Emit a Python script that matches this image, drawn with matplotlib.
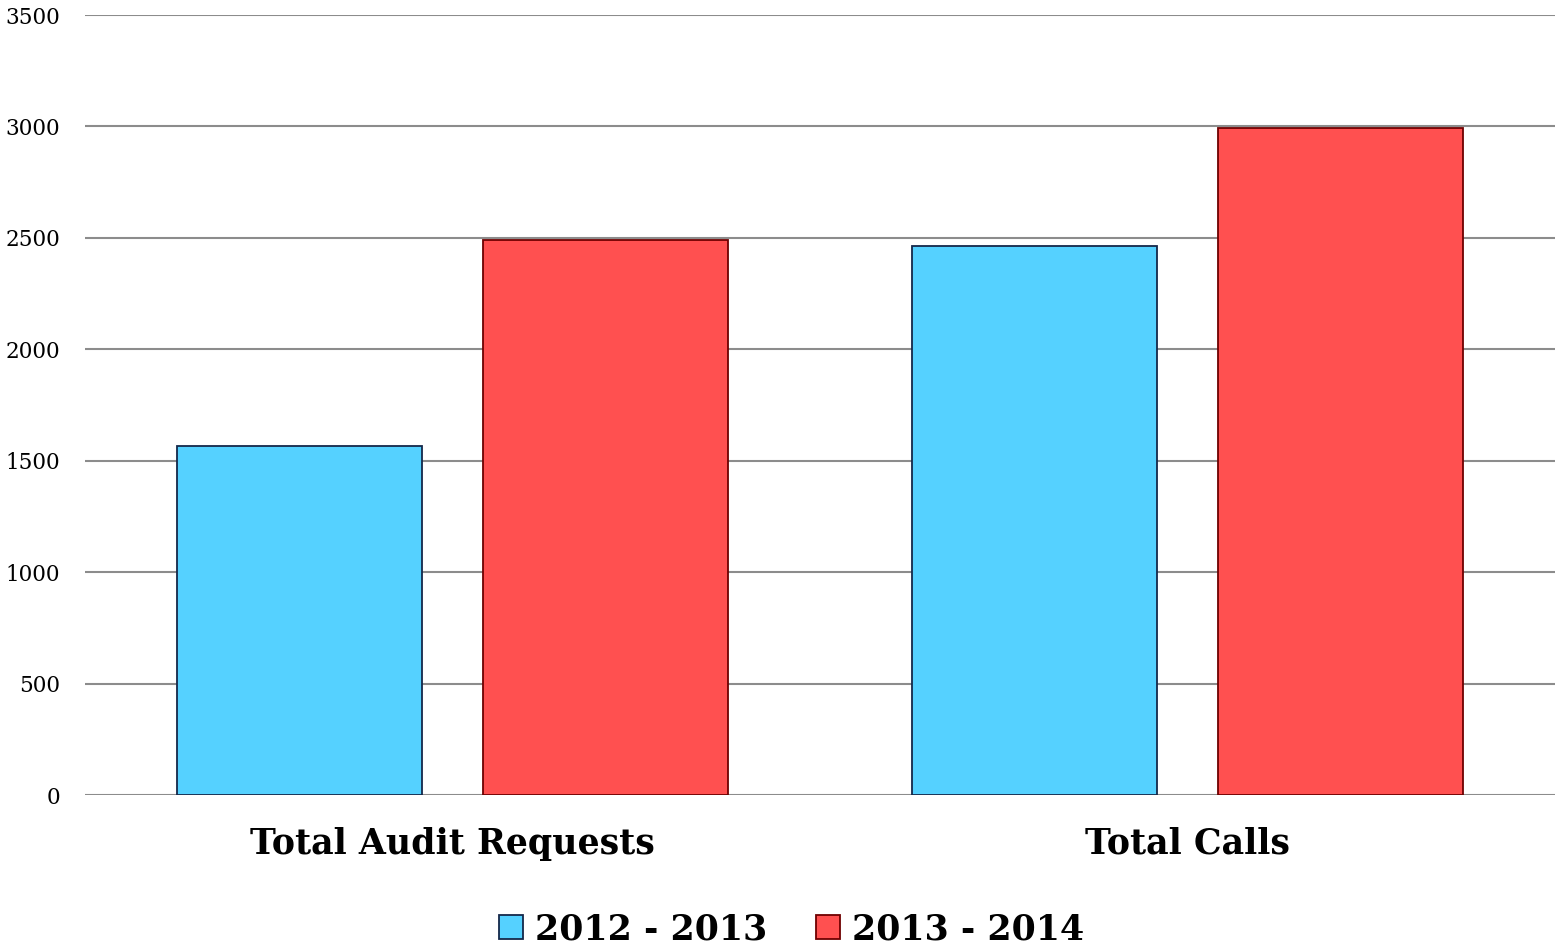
import numpy as np
import matplotlib
matplotlib.use("Agg")
import matplotlib.pyplot as plt

categories = ["Total Audit Requests", "Total Calls"]
series_names = ["2012 - 2013", "2013 - 2014"]
values_2012_13 = [1565, 2465]
values_2013_14 = [2492, 2995]
yticks = [0, 500, 1000, 1500, 2000, 2500, 3000, 3500]

fill_colors = ["#55d1ff", "#ff5050"]
edge_colors = ["#14284a", "#6e0000"]

plt.rcParams["font.family"] = ["DejaVu Serif"]

fig = plt.figure(figsize=(15.55, 9.5), dpi=100)
ax = fig.add_axes([85 / 1555, 155 / 950, 1470 / 1555, 780 / 950])

x = np.arange(len(categories))
width = 0.333
offset = 0.208
for i, vals in enumerate([values_2012_13, values_2013_14]):
    ax.bar(x + (i * 2 - 1) * offset, vals, width, color=fill_colors[i],
           edgecolor=edge_colors[i], linewidth=1.3, label=series_names[i], zorder=3)

ax.set_xlim(-0.5, 1.5)
ax.set_ylim(0, 3500)
ax.set_yticks(yticks)
ax.set_yticklabels([str(t) for t in yticks], fontsize=15.5)
ax.yaxis.grid(True, color="#8c8c8c", linewidth=1.5, zorder=0)
ax.set_axisbelow(True)
ax.tick_params(axis="y", length=0, pad=18)
ax.tick_params(axis="x", length=0, pad=23)
ax.set_xticks(x)
ax.set_xticklabels(categories, fontsize=25, fontweight="bold")
for s in ax.spines.values():
    s.set_visible(False)

leg = fig.legend(loc="center", bbox_to_anchor=(0.509, 0.022), ncol=2, frameon=False,
                 prop={"size": 25, "weight": "bold"}, handlelength=0.7, handleheight=0.7,
                 handletextpad=0.35, columnspacing=1.4)

fig.savefig("out.png", dpi=100)
